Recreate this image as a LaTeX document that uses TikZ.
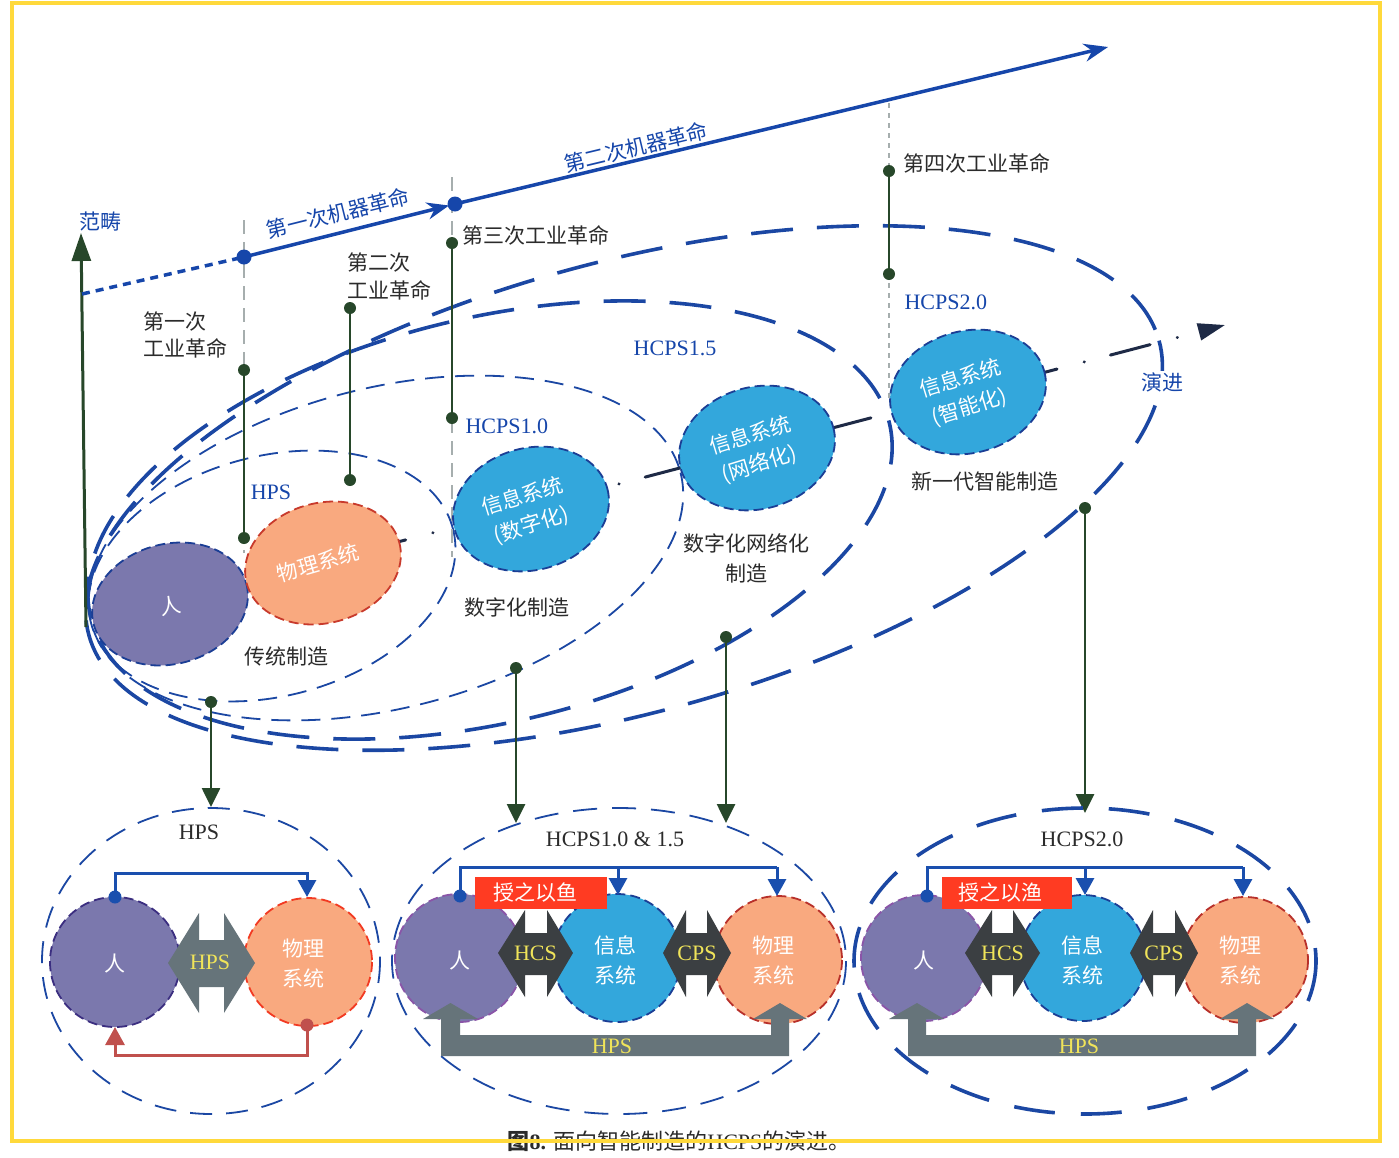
\documentclass[tikz,border=0pt]{standalone}
\usepackage{fontspec}
\setmainfont{Liberation Serif}
\newfontfamily\cjk{Noto Sans CJK SC}
\usetikzlibrary{arrows.meta}
\definecolor{ybord}{HTML}{FFD93B}
\definecolor{eblue}{HTML}{1B47A3}
\definecolor{ablue}{HTML}{1646AA}
\definecolor{gline}{HTML}{27472A}
\definecolor{purp}{HTML}{7B78AD}
\definecolor{salm}{HTML}{F9A97F}
\definecolor{sky}{HTML}{33A7DC}
\definecolor{navy}{HTML}{1E2A46}
\definecolor{dgray}{HTML}{3B3F42}
\definecolor{mgray}{HTML}{66747A}
\definecolor{ylab}{HTML}{F0E45A}
\definecolor{redbox}{HTML}{FF3B22}
\definecolor{redline}{HTML}{C0504D}
\definecolor{txt}{HTML}{2B2B2B}
\definecolor{ggray}{HTML}{A6AEAE}
\definecolor{cbord}{HTML}{1B3E95}
\definecolor{rbord}{HTML}{C83A2C}
\definecolor{pbord}{HTML}{3B2E80}
\definecolor{pbordb}{HTML}{8A55A8}
\definecolor{rbordb}{HTML}{F23A22}
\definecolor{rbordc}{HTML}{B8302A}
\definecolor{cblue}{HTML}{1A4FAE}
\tikzset{
  lat/.style={font=\fontsize{22}{26}\selectfont},
  zh/.style={font=\cjk\fontsize{21}{26}\selectfont},
  thinell/.style={draw=eblue, line width=1.8pt, dash pattern=on 19pt off 11pt},
  thickell/.style={draw=eblue, line width=3.6pt, dash pattern=on 42pt off 24pt},
  circb/.style={line width=1.8pt, dash pattern=on 10pt off 5pt},
  gconn/.style={draw=gline, line width=2.6pt},
  gdown/.style={draw=gline, line width=2.6pt, -{Triangle[length=19pt,width=18pt]}},
  gvert/.style={draw=ggray, line width=1.6pt, dash pattern=on 14pt off 8pt},
  bconn/.style={draw=cblue, line width=3pt},
  barrow/.style={draw=cblue, line width=3pt, -{Triangle[length=17pt,width=18pt]}},
  intext/.style={text=white, font=\cjk\fontsize{21}{30}\selectfont, align=center},
  arrtext/.style={text=ylab, font=\fontsize{22}{26}\selectfont},
}
\begin{document}
\begin{tikzpicture}[x=1pt,y=-1pt]
\useasboundingbox (0,0) rectangle (1399,1157);
\fill[white] (0,0) rectangle (1399,1157);

% ---------- big nested ellipses ----------
\draw[thickell, rotate around={15.4:(624,488)}] (624,488) ellipse [x radius=555, y radius=225];
\draw[thickell, rotate around={13.7:(490,520)}] (490,520) ellipse [x radius=411, y radius=202];
\draw[thinell, rotate around={14.35:(386,548)}] (386,548) ellipse [x radius=304, y radius=160];
\draw[thinell, rotate around={14.7:(272,576)}] (272,576) ellipse [x radius=187, y radius=120];

% ---------- gray dashed verticals ----------
\coordinate (gv1a) at (244,220); \coordinate (gv1b) at (244,553);
\coordinate (gv2a) at (452,177); \coordinate (gv2b) at (452,557);
\coordinate (gv3a) at (889,103); \coordinate (gv3b) at (889,400);
\draw[gvert] (gv1a) -- (gv1b);
\draw[gvert] (gv2a) -- (gv2b);
\draw[draw=ggray, line width=1.6pt, dash pattern=on 5pt off 5pt] (gv3a) -- (gv3b);

% ---------- evolution dash-dot line ----------
\coordinate (ev0) at (366,550.3);
\coordinate (ev1) at (1225,325);
\draw[navy, line width=3pt, line cap=round, dash pattern=on 41pt off 28pt on 0.3pt off 26.9pt, -{Triangle[length=27pt,width=17pt]}] (ev0) -- (ev1);

% ---------- top circles ----------
\filldraw[fill=purp, draw=cbord, circb, rotate around={15:(170,604)}] (170,604) ellipse [x radius=79, y radius=60];
\filldraw[fill=salm, draw=rbord, circb, rotate around={15:(323,563)}] (323,563) ellipse [x radius=79, y radius=60];
\filldraw[fill=sky, draw=cbord, circb, rotate around={15:(531,509)}] (531,509) ellipse [x radius=79, y radius=61];
\filldraw[fill=sky, draw=cbord, circb, rotate around={15:(757,448)}] (757,448) ellipse [x radius=79, y radius=61];
\filldraw[fill=sky, draw=cbord, circb, rotate around={15:(968,392)}] (968,392) ellipse [x radius=79, y radius=61];
\node[intext, rotate=10] (tren) at (170,606) {人};
\node[intext, rotate=16] (twl) at (318,563) {物理系统};
\node[intext, rotate=17] (txx1) at (527,511) {信息系统\\(数字化)};
\node[intext, rotate=17] (txx2) at (755,450) {信息系统\\(网络化)};
\node[intext, rotate=17] (txx3) at (965,393) {信息系统\\(智能化)};

% ---------- axis ----------
\coordinate (axB) at (86,627);
\coordinate (axT) at (81,233);
\draw[gline, line width=3pt, -{Triangle[length=28pt,width=19pt]}] (axB) -- (axT);
\node[zh, text=ablue] (fanchou) at (100,222) {范畴};

% ---------- machine revolution line ----------
\coordinate (p0) at (82,294);
\coordinate (p1) at (244,257);
\coordinate (p2a) at (449,205.5);
\coordinate (p2) at (455,204);
\coordinate (p3) at (1108,47);
\draw[ablue, line width=3.5pt, dash pattern=on 8pt off 6pt] (p0) -- (p1);
\draw[ablue, line width=3.5pt, -{Stealth[length=22pt,width=17pt]}] (p1) -- (p2a);
\draw[ablue, line width=3.5pt, -{Stealth[length=24pt,width=18pt]}] (p2) -- (p3);
\fill[ablue] (p1) circle (7.5);
\fill[ablue] (p2) circle (7.5);
\node[zh, text=ablue, rotate=14] (m1) at (338,213) {第一次机器革命};
\node[zh, text=ablue, rotate=13.5] (m2) at (636,147) {第二次机器革命};

% ---------- green connectors ----------
\coordinate (g1a) at (244,370); \coordinate (g1b) at (244,538);
\coordinate (g2a) at (350,308); \coordinate (g2b) at (350,480);
\coordinate (g3a) at (452,243); \coordinate (g3b) at (452,418);
\coordinate (g4a) at (889,171); \coordinate (g4b) at (889,274);
\draw[gconn] (g1a) -- (g1b);
\draw[gconn] (g2a) -- (g2b);
\draw[gconn] (g3a) -- (g3b);
\draw[gconn] (g4a) -- (g4b);
\foreach \p in {g1a,g1b,g2a,g2b,g3a,g3b,g4a,g4b} \fill[gline] (\p) circle (6);

\coordinate (d1a) at (211,702); \coordinate (d1b) at (211,807);
\coordinate (d2a) at (516,668); \coordinate (d2b) at (516,823);
\coordinate (d3a) at (726,637); \coordinate (d3b) at (726,823);
\coordinate (d4a) at (1085,508); \coordinate (d4b) at (1085,813);
\draw[gdown] (d1a) -- (d1b);
\draw[gdown] (d2a) -- (d2b);
\draw[gdown] (d3a) -- (d3b);
\draw[gdown] (d4a) -- (d4b);
\foreach \p in {d1a,d2a,d3a,d4a} \fill[gline] (\p) circle (6);

% ---------- top labels ----------
\node[zh, text=txt, anchor=west] (r3) at (459,235) {第三次工业革命};
\node[zh, text=txt, anchor=west, align=left, font=\cjk\fontsize{21}{28}\selectfont] (r2) at (344,276) {第二次\\工业革命};
\node[zh, text=txt, anchor=west, align=left, font=\cjk\fontsize{21}{27}\selectfont] (r1) at (140,335) {第一次\\工业革命};
\node[zh, text=txt, anchor=west] (r4) at (900,163) {第四次工业革命};
\node[lat, text=ablue, anchor=west] (h20) at (901,302) {HCPS2.0};
\node[lat, text=ablue] (h15) at (675,348) {HCPS1.5};
\node[lat, text=ablue, anchor=west] (h10) at (462,426) {HCPS1.0};
\node[lat, text=ablue] (hps) at (271,492) {HPS};
\node[zh, text=txt] (ct) at (286,656) {传统制造};
\node[zh, text=txt] (cd) at (517,607) {数字化制造};
\node[zh, text=txt, align=center, font=\cjk\fontsize{21}{30}\selectfont] (cn) at (746,558) {数字化网络化\\制造};
\node[zh, text=txt] (ci) at (985,481) {新一代智能制造};
\node[zh, text=ablue, fill=white, inner sep=1pt] (yj) at (1162,382) {演进};

% ================= panel 1 =================
\draw[thinell, dash pattern=on 22pt off 14pt] (211,961) ellipse [x radius=169, y radius=153];
\node[lat, text=txt] (p1t) at (199,832) {HPS};
\filldraw[fill=purp, draw=pbord, circb] (115,962) circle (65);
\filldraw[fill=salm, draw=rbordb, circb] (308,962) circle (64);
\fill[mgray] (168,963) -- (199,913) -- (199,940) -- (224,940) -- (224,913) -- (255,963) -- (224,1013) -- (224,987) -- (199,987) -- (199,1013) -- cycle;
\node[arrtext] (p1a) at (210,962) {HPS};
\node[intext] (p1r) at (115,963) {人};
\node[intext] (p1w) at (303,963) {物理\\系统};
\coordinate (b1s) at (115,897); \coordinate (b1e) at (307,897);
\draw[barrow] (b1s) -- ++(0,-24) -| (b1e);
\fill[cblue] (b1s) circle (6.5);
\coordinate (r1s) at (307,1025); \coordinate (r1e) at (115,1027);
\draw[redline, line width=3pt, -{Triangle[length=18pt,width=19pt]}] (r1s) -- ++(0,30) -| (r1e);
\fill[redline] (r1s) circle (6.5);

% ================= panel 2 =================
\draw[thinell, dash pattern=on 24pt off 15pt] (619,961) ellipse [x radius=227, y radius=153];
\node[lat, text=txt] (p2t) at (615,839) {HCPS1.0 \& 1.5};
\filldraw[fill=purp, draw=pbordb, circb] (459,958) circle (64);
\filldraw[fill=sky, draw=cbord, circb] (617,958) circle (64);
\filldraw[fill=salm, draw=rbordc, circb] (778,960) circle (64);
\node[intext] (p2r) at (460,960) {人};
\node[intext] (p2x) at (615,960) {信息\\系统};
\node[intext] (p2w) at (773,960) {物理\\系统};
\fill[dgray] (498,953) -- (525,910) -- (525,933) -- (547,933) -- (547,910) -- (573,953) -- (547,997) -- (547,975) -- (525,975) -- (525,997) -- cycle;
\fill[dgray] (663,953) -- (686,910) -- (686,933) -- (707,933) -- (707,910) -- (731,953) -- (707,997) -- (707,975) -- (686,975) -- (686,997) -- cycle;
\node[arrtext] (p2h) at (535.5,953) {HCS};
\node[arrtext] (p2c) at (697,953) {CPS};
\fill[mgray] (441,1056) -- (441,1019) -- (423,1019) -- (450.5,1003) -- (478,1019) -- (460,1019) -- (460,1035) -- (771,1035) -- (771,1019) -- (753,1019) -- (780,1003) -- (807,1019) -- (789,1019) -- (789,1056) -- cycle;
\node[arrtext] (p2p) at (612,1046) {HPS};
\fill[redbox] (475,877) rectangle (607,909);
\node[intext] (p2y) at (535,893) {授之以鱼};
\coordinate (b2s) at (460,896); \coordinate (b2c) at (460,867);
\coordinate (b2m) at (618,867); \coordinate (b2mi) at (618,895);
\coordinate (b2r) at (777,867); \coordinate (b2ri) at (777,896);
\draw[bconn] (b2s) -- (b2c) -- (b2r);
\draw[barrow] (b2m) -- (b2mi);
\draw[barrow] (b2r) -- (b2ri);
\fill[cblue] (b2s) circle (6.5);

% ================= panel 3 =================
\draw[thickell, dash pattern=on 41pt off 26pt] (1085,961) ellipse [x radius=231, y radius=153];
\node[lat, text=txt] (p3t) at (1082,839) {HCPS2.0};
\filldraw[fill=purp, draw=pbordb, circb] (924,958) circle (63);
\filldraw[fill=sky, draw=cbord, circb] (1083,958) circle (63);
\filldraw[fill=salm, draw=rbordc, circb] (1245,960) circle (63);
\node[intext] (p3r) at (924,960) {人};
\node[intext] (p3x) at (1082,960) {信息\\系统};
\node[intext] (p3w) at (1240,960) {物理\\系统};
\fill[dgray] (965,953) -- (992,910) -- (992,933) -- (1013,933) -- (1013,910) -- (1040,953) -- (1013,997) -- (1013,975) -- (992,975) -- (992,997) -- cycle;
\fill[dgray] (1130,953) -- (1153,910) -- (1153,933) -- (1175,933) -- (1175,910) -- (1198,953) -- (1175,997) -- (1175,975) -- (1153,975) -- (1153,997) -- cycle;
\node[arrtext] (p3h) at (1002.5,953) {HCS};
\node[arrtext] (p3c) at (1164,953) {CPS};
\fill[mgray] (908,1056) -- (908,1019) -- (889,1019) -- (917,1003) -- (944,1019) -- (926,1019) -- (926,1035) -- (1238,1035) -- (1238,1019) -- (1220,1019) -- (1247,1003) -- (1274,1019) -- (1256,1019) -- (1256,1056) -- cycle;
\node[arrtext] (p3p) at (1079,1046) {HPS};
\fill[redbox] (942,877) rectangle (1072,909);
\node[intext] (p3y) at (1000,893) {授之以渔};
\coordinate (b3s) at (927,896); \coordinate (b3c) at (927,867);
\coordinate (b3m) at (1085,867); \coordinate (b3mi) at (1085,895);
\coordinate (b3r) at (1243,867); \coordinate (b3ri) at (1243,896);
\draw[bconn] (b3s) -- (b3c) -- (b3r);
\draw[barrow] (b3m) -- (b3mi);
\draw[barrow] (b3r) -- (b3ri);
\fill[cblue] (b3s) circle (6.5);

% ---------- caption and frame ----------
\node[text=txt, font=\fontsize{22}{26}\selectfont] (cap) at (679,1141) {{\bfseries\cjk 图}{\bfseries 8.} {\cjk 面向智能制造的}HCPS{\cjk 的演进。}};
\draw[ybord, line width=4pt] (12,3) rectangle (1380,1141);
\end{tikzpicture}
\end{document}
